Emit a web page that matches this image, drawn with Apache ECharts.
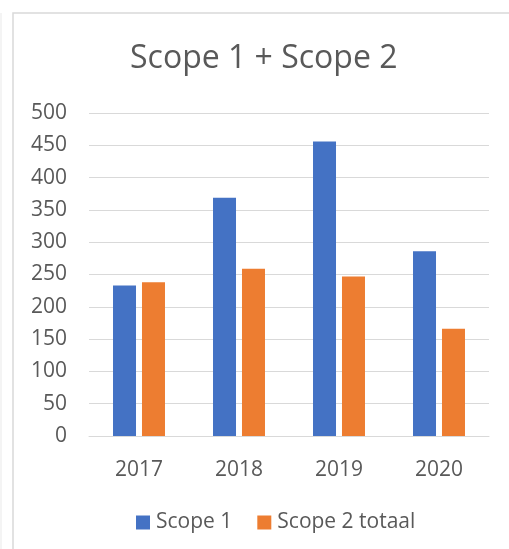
<!DOCTYPE html>
<html>
<head>
<meta charset="utf-8">
<script src="https://cdn.jsdelivr.net/npm/echarts@6/dist/echarts.min.js"></script>
<style>
  html, body { margin: 0; padding: 0; background: #fff; }
  #chart { width: 509px; height: 549px; }
</style>
</head>
<body>
<div id="chart"></div>
<script>
// data
var years = ['2017', '2018', '2019', '2020'];
var scope1 = [233, 369, 456, 286];
var scope2 = [238, 259, 247, 166];
var yTicks = [0, 50, 100, 150, 200, 250, 300, 350, 400, 450, 500];

var textColor = '#595959';
var font = 'Open Sans';

var myChart = echarts.init(document.getElementById('chart'));
myChart.setOption({
  animation: false,
  textStyle: { fontFamily: font },
  graphic: [{
    type: 'rect',
    shape: { x: 13, y: 13, width: 520, height: 560 },
    style: { fill: 'none', stroke: '#d9d9d9', lineWidth: 1.5 },
    z: -1
  }, {
    type: 'line',
    shape: { x1: 1, y1: 13, x2: 1, y2: 549 },
    style: { stroke: '#f0f0f0', lineWidth: 1.5 },
    z: -1
  }],
  title: {
    text: 'Scope 1 + Scope 2',
    left: 125,
    top: 38,
    textStyle: { fontFamily: font, fontSize: 32, fontWeight: 'normal', color: textColor }
  },
  legend: {
    top: 507,
    left: 131,
    itemWidth: 14,
    itemHeight: 14,
    itemGap: 25,
    icon: 'rect',
    textStyle: { fontFamily: font, fontSize: 21, color: textColor, padding: [0, 0, 0, 1] },
    data: ['Scope 1', 'Scope 2 totaal']
  },
  grid: { left: 89, right: 20, top: 113, bottom: 113 },
  xAxis: {
    type: 'category',
    data: years,
    axisTick: { show: false },
    axisLine: { lineStyle: { color: '#d9d9d9', width: 1 } },
    axisLabel: { fontFamily: font, fontSize: 21, color: textColor, margin: 24 }
  },
  yAxis: {
    type: 'value',
    min: yTicks[0],
    max: yTicks[yTicks.length - 1],
    interval: yTicks[1] - yTicks[0],
    axisLine: { show: false },
    axisTick: { show: false },
    splitLine: { lineStyle: { color: '#d9d9d9', width: 1 } },
    axisLabel: { fontFamily: font, fontSize: 21, color: textColor, margin: 22 }
  },
  series: [
    {
      name: 'Scope 1',
      type: 'bar',
      data: scope1,
      barWidth: 23,
      barGap: '26%',
      itemStyle: { color: '#4472c4' }
    },
    {
      name: 'Scope 2 totaal',
      type: 'bar',
      data: scope2,
      barWidth: 23,
      barGap: '26%',
      itemStyle: { color: '#ed7d31' }
    }
  ]
});
</script>
</body>
</html>
